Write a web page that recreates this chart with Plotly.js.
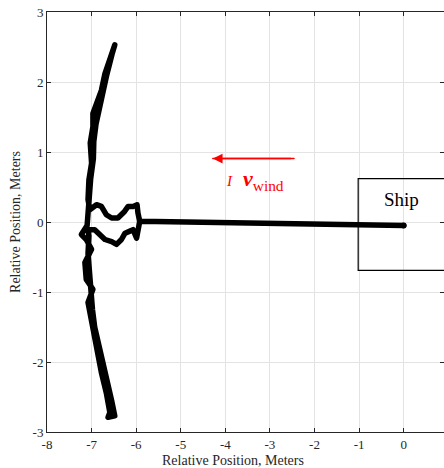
<!DOCTYPE html>
<html>
<head>
<meta charset="utf-8">
<script src="https://cdn.plot.ly/plotly-3.0.1.min.js"></script>
<style>html,body{margin:0;padding:0;background:#fff;} #chart{width:444px;height:468px;}</style>
</head>
<body>
<div id="chart"></div>
<script>
// Trajectory (relative position of the ship-relative object), meters
const trajX = [0, -5.77, -5.92,
  -5.96, -5.98, -6.07, -6.18, -6.26, -6.41, -6.55, -6.67, -6.78, -6.89, -7.04,
  -7.08, -7.06, -7.00, -7.03, -6.97, -6.97, -6.89, -6.78, -6.70, -6.59, -6.48,
  -6.54, -6.66, -6.74, -6.84, -6.90, -6.95, -6.96, -7.02, -7.05, -7.07, -7.10,
  -7.23, -7.12,
  -7.00, -7.15, -7.12, -6.97, -7.08, -7.00, -6.93, -6.86, -6.78, -6.67, -6.59, -6.63,
  -6.48, -6.55, -6.66, -6.75, -6.85, -6.93, -6.98, -7.02, -7.06, -7.08, -7.06, -7.08,
  -6.93, -6.82, -6.70, -6.55, -6.44, -6.33, -6.25, -6.14, -6.07, -5.99, -5.96, -5.92];
const trajY = [-0.05, -0.01, 0.01,
  0.128, 0.246, 0.222, 0.222, 0.151, 0.057, 0.057, 0.104, 0.222, 0.247, 0.175,
  0.32, 0.60, 0.84, 1.13, 1.36, 1.55, 1.70, 1.88, 2.12, 2.36, 2.53,
  2.40, 2.10, 1.85, 1.62, 1.40, 1.15, 0.90, 0.62, 0.35, 0.10, -0.05,
  -0.18, -0.25,
  -0.39, -0.58, -0.82, -0.96, -1.15, -1.44, -1.68, -1.91, -2.15, -2.44, -2.72, -2.79,
  -2.77, -2.55, -2.25, -2.00, -1.75, -1.50, -1.25, -1.00, -0.75, -0.45, -0.20, -0.11,
  -0.11, -0.18, -0.25, -0.28, -0.32, -0.25, -0.16, -0.13, -0.11, -0.23, -0.06, 0.01];

// Ship end point
const shipPointX = [0];
const shipPointY = [-0.05];

// Ship box (x0, x1, y0, y1)
const shipBoxX = [-1.02, 1.3];
const shipBoxY = [-0.69, 0.62];
const shipLabel = "Ship";
const shipLabelPos = [-0.04, 0.32];

// Wind arrow (tail -> head) and label position
const windArrowX = [-2.46, -4.28];
const windArrowY = [0.906, 0.906];
const windLabelPos = [-3.34, 0.60];

// Axis ticks
const xTickVals = [-8, -7, -6, -5, -4, -3, -2, -1, 0];
const xTickText = ["-8", "-7", "-6", "-5", "-4", "-3", "-2", "-1", "0"];
const yTickVals = [-3, -2, -1, 0, 1, 2, 3];
const yTickText = ["-3", "-2", "-1", "0", "1", "2", "3"];

const serif = "Liberation Serif, Times New Roman, serif";

const traces = [
  {x: trajX, y: trajY, type: "scatter", mode: "lines",
   line: {color: "#000", width: 5.5}, hoverinfo: "skip", showlegend: false},
  {x: shipPointX, y: shipPointY, type: "scatter", mode: "markers",
   marker: {color: "#000", size: 6}, hoverinfo: "skip", showlegend: false},
  {x: windArrowX, y: windArrowY, type: "scatter", mode: "lines",
   line: {color: "#ff0000", width: 1.5}, hoverinfo: "skip", showlegend: false}
];

const axisCommon = {
  showgrid: true, gridcolor: "#e3e3e3", gridwidth: 1,
  zeroline: false, showline: true, linecolor: "#262626", linewidth: 1,
  mirror: "ticks", ticks: "inside", ticklen: 4, tickcolor: "#262626",
  tickfont: {family: serif, size: 13, color: "#262626"}
};

const layout = {
  width: 444, height: 468,
  margin: {l: 47, r: 0, t: 12, b: 36},
  paper_bgcolor: "#fff", plot_bgcolor: "#fff",
  xaxis: Object.assign({}, axisCommon, {
    range: [-8, 0.905], tickmode: "array", tickvals: xTickVals, ticktext: xTickText
  }),
  yaxis: Object.assign({}, axisCommon, {
    range: [-3, 3], tickmode: "array", tickvals: yTickVals, ticktext: yTickText,
    title: {text: "Relative Position, Meters", standoff: 8,
            font: {family: serif, size: 14, color: "#262626"}}
  }),
  shapes: [
    {type: "rect", xref: "x", yref: "y",
     x0: shipBoxX[0], x1: shipBoxX[1], y0: shipBoxY[0], y1: shipBoxY[1],
     line: {color: "#000", width: 1.2}, fillcolor: "rgba(0,0,0,0)"}
  ],
  annotations: [
    {xref: "paper", yref: "paper", x: 0.469, y: 0, yshift: -19, yanchor: "top",
     showarrow: false, text: "Relative Position, Meters",
     font: {family: serif, size: 14, color: "#262626"}},
    {xref: "x", yref: "y", x: shipLabelPos[0], y: shipLabelPos[1], showarrow: false,
     text: shipLabel, font: {family: serif, size: 19, color: "#000"}},
    {xref: "x", yref: "y", axref: "x", ayref: "y",
     x: windArrowX[1], y: windArrowY[1], ax: windArrowX[0], ay: windArrowY[0],
     text: " ", showarrow: true, arrowhead: 2, arrowsize: 1.3, arrowwidth: 1.5,
     arrowcolor: "#ff0000", standoff: 0},
    {xref: "x", yref: "y", x: windLabelPos[0], y: windLabelPos[1], showarrow: false,
     text: "<span style=\"font-size:15px\"><i>I</i></span>  <b><i>v</i></b><sub>wind</sub>",
     font: {family: serif, size: 22, color: "#ff0000"}}
  ]
};

Plotly.newPlot("chart", traces, layout, {staticPlot: true, displayModeBar: false}).then(function () {
  document.querySelectorAll(".scatterlayer path.js-line").forEach(function (p) {
    p.style.strokeLinejoin = "round";
    p.style.strokeLinecap = "round";
  });
});
</script>
</body>
</html>
